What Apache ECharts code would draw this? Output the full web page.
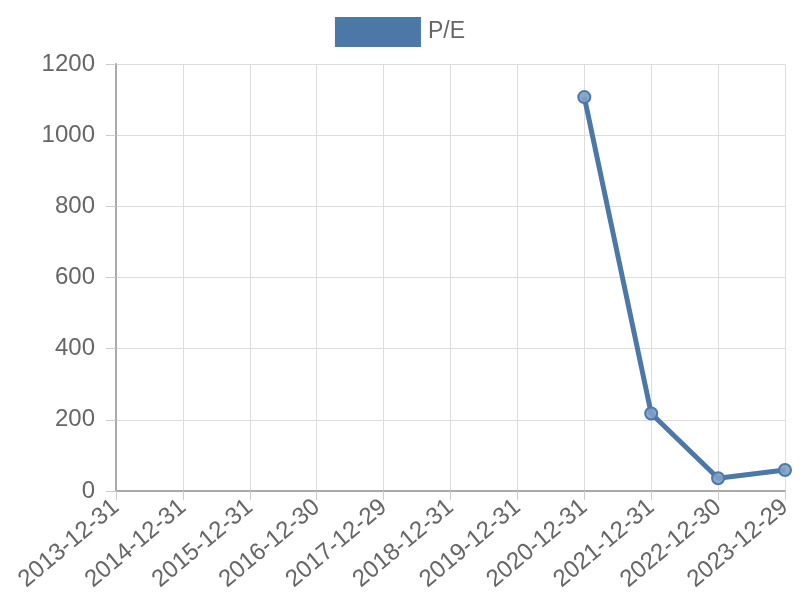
<!DOCTYPE html>
<html><head><meta charset="utf-8">
<script src="https://cdn.jsdelivr.net/npm/echarts@6/dist/echarts.min.js"></script>
<style>html,body{margin:0;padding:0;background:#fff}#c{width:800px;height:600px}</style>
</head><body><div id="c"></div>
<script>
const categories = ['2013-12-31','2014-12-31','2015-12-31','2016-12-30','2017-12-29','2018-12-31','2019-12-31','2020-12-31','2021-12-31','2022-12-30','2023-12-29'];
const peValues = [null,null,null,null,null,null,null,1107,218,36,59];
const seriesName = 'P/E';

const chart = echarts.init(document.getElementById('c'));
chart.setOption({
  animation:false,
  textStyle:{fontFamily:'Liberation Sans, Arial, sans-serif'},
  legend:{top:17,left:'center',padding:0,itemWidth:86,itemHeight:30,itemGap:10,
    textStyle:{fontSize:23,color:'#666',padding:[0,0,0,2]},icon:'rect',
    data:[{name:seriesName,itemStyle:{color:'#4c78a8',borderWidth:0}}]},
  grid:{left:116,right:15,top:64,bottom:109,containLabel:false},
  xAxis:{type:'category',data:categories,boundaryGap:false,
    axisLine:{lineStyle:{color:'#aaa',width:2}},
    axisTick:{show:true,alignWithLabel:true,length:9,lineStyle:{color:'#ccc',width:1}},
    splitLine:{show:true,lineStyle:{color:'#ddd'}},
    axisLabel:{rotate:40,fontSize:24,color:'#666',margin:13,interval:0}},
  yAxis:{type:'value',min:0,max:1200,interval:200,
    axisLine:{show:true,lineStyle:{color:'#aaa',width:2}},
    axisTick:{show:true,length:10,lineStyle:{color:'#ccc'}},
    splitLine:{show:true,lineStyle:{color:'#ddd'}},
    axisLabel:{fontSize:24,color:'#666',margin:21,formatter:v=>String(v)}},
  series:[{name:seriesName,type:'line',data:peValues,connectNulls:false,
    lineStyle:{color:'#4c78a8',width:5},
    symbol:'circle',symbolSize:12,
    itemStyle:{color:'rgba(125,160,200,0.9)',borderColor:'#4c78a8',borderWidth:2}}]
});
</script></body></html>
